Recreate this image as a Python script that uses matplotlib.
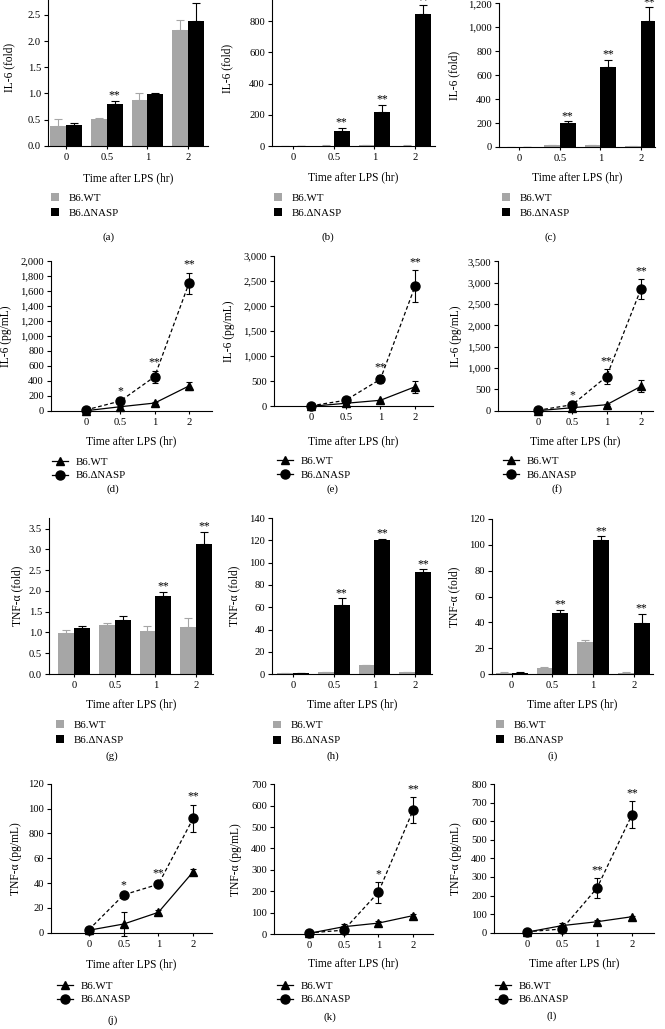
import numpy as np
import matplotlib
matplotlib.use('Agg')
import matplotlib.pyplot as plt
from matplotlib.transforms import blended_transform_factory
from matplotlib.lines import Line2D
from matplotlib.patches import Patch

plt.rcParams['font.family'] = ['Liberation Serif', 'DejaVu Serif']
plt.rcParams['axes.linewidth'] = 0.8
plt.rcParams['xtick.major.width'] = 0.8
plt.rcParams['ytick.major.width'] = 0.8
plt.rcParams['xtick.major.size'] = 3
plt.rcParams['ytick.major.size'] = 3

W, H = 665, 1029
GRAY = '#a6a6a6'
FS_TICK = 7.6
FS_LAB = 8.3
FS_LEG = 7.8
FS_STAR = 8.5

times = ['0', '0.5', '1', '2']
groups = ['B6.WT', 'B6.\u0394NASP']

# ---- bar panels (fold change, mean + SEM) ----
a_wt = [0.37, 0.505, 0.87, 2.22]
a_wt_err = [0.14, 0.02, 0.13, 0.19]
a_ko = [0.40, 0.79, 0.98, 2.38]
a_ko_err = [0.035, 0.07, 0.03, 0.35]
a_stars = ['', '**', '', '']

b_wt = [1, 3, 6, 3]
b_wt_err = [0.5, 1, 2, 1]
b_ko = [2, 94, 216, 850]
b_ko_err = [0.5, 23, 50, 52]
b_stars = ['', '**', '**', '**']

c_wt = [2, 15, 15, 5]
c_wt_err = [1, 4, 4, 1]
c_ko = [2, 198, 671, 1050]
c_ko_err = [1, 16, 56, 117]
c_stars = ['', '**', '**', '**']

g_wt = [0.99, 1.19, 1.04, 1.13]
g_wt_err = [0.08, 0.03, 0.12, 0.22]
g_ko = [1.11, 1.31, 1.87, 3.12]
g_ko_err = [0.04, 0.08, 0.11, 0.30]
g_stars = ['', '', '**', '**']

h_wt = [1, 2, 8, 2]
h_wt_err = [0.2, 0.3, 0.5, 0.3]
h_ko = [1, 62, 120, 91.5]
h_ko_err = [0.2, 6, 1.5, 2.5]
h_stars = ['', '**', '**', '**']

i_wt = [1, 4.5, 25, 1]
i_wt_err = [0.2, 1, 1, 0.2]
i_ko = [1, 47.5, 104, 39.5]
i_ko_err = [0.2, 2, 2.5, 7]
i_stars = ['', '**', '**', '**']

# ---- line panels (pg/mL, mean +/- SEM) ----
d_wt = [0, 53, 102, 330]
d_wt_err = [2, 10, 15, 58]
d_ko = [10, 129, 454, 1701]
d_ko_err = [5, 20, 80, 145]
d_stars = ['', '*', '**', '**']

e_wt = [0, 60, 120, 390]
e_wt_err = [2, 10, 15, 120]
e_ko = [10, 120, 540, 2400]
e_ko_err = [5, 20, 80, 320]
e_stars = ['', '', '**', '**']

f_wt = [0, 70, 140, 570]
f_wt_err = [2, 10, 20, 140]
f_ko = [10, 140, 800, 2850]
f_ko_err = [5, 20, 170, 230]
f_stars = ['', '*', '**', '**']

j_wt = [2, 7, 16.4, 49]
j_wt_err = [0.3, 9.5, 1.5, 2]
j_ko = [2.5, 30.5, 39, 92]
j_ko_err = [0.5, 1.5, 2, 11]
j_stars = ['', '*', '**', '**']

k_wt = [3, 34, 51, 86]
k_wt_err = [1, 12, 8, 7]
k_ko = [5, 18, 195, 579]
k_ko_err = [2, 5, 48, 60]
k_stars = ['', '', '*', '**']

l_wt = [3, 38, 59, 86]
l_wt_err = [1, 12, 12, 5]
l_ko = [5, 20, 240, 635]
l_ko_err = [2, 5, 52, 72]
l_stars = ['', '', '**', '**']

fig = plt.figure(figsize=(W / 100, H / 100), dpi=100)


def fx(x):
    return x / W


def fy(y):
    return 1 - y / H


def make_axes(spine_x, right_x, g0, step, y0, ref_val, ref_px, ytop_val):
    scale = (y0 - ref_px) / ref_val
    ytop_px = y0 - ytop_val * scale
    ax = fig.add_axes([fx(spine_x), fy(y0), (right_x - spine_x) / W, (y0 - ytop_px) / H])
    ax.set_xlim((spine_x - g0) / step, (right_x - g0) / step)
    ax.set_ylim(0, ytop_val)
    for s in ('top', 'right'):
        ax.spines[s].set_visible(False)
    ax.set_xticks(range(4))
    ax.set_xticklabels(times)
    ax.tick_params(axis='x', labelsize=FS_TICK, pad=2.5, length=2.5)
    ax.tick_params(axis='y', labelsize=FS_TICK, pad=2)
    return ax


def finish(ax, yticks, ylabels, ylabel, ylab_x, xlab_y, letter, letter_xy):
    ax.set_yticks(yticks)
    ax.set_yticklabels(ylabels)
    ax.set_ylabel(ylabel, fontsize=FS_LAB)
    ax.yaxis.set_label_coords(fx(ylab_x + 5), 0.5,
                              transform=blended_transform_factory(fig.transFigure, ax.transAxes))
    ax.set_xlabel('Time after LPS (hr)', fontsize=FS_LAB)
    ax.xaxis.set_label_coords(0.5, fy(xlab_y - 6),
                              transform=blended_transform_factory(ax.transAxes, fig.transFigure))
    fig.text(fx(letter_xy[0]), fy(letter_xy[1]), letter, ha='center', va='center', fontsize=FS_LEG)


def bar_panel(pos, wt, wt_err, ko, ko_err, stars, yticks, ylabels, ylabel, ylab_x, xlab_y,
              leg_xy, letter, letter_xy):
    ax = make_axes(*pos)
    x = np.arange(4)
    w = 0.39
    zeros = np.zeros(4)
    ax.bar(x - w / 2, wt, w, color=GRAY, yerr=[zeros, wt_err], capsize=2.6,
           error_kw=dict(ecolor=GRAY, elinewidth=0.8, capthick=0.8))
    ax.bar(x + w / 2, ko, w, color='black', yerr=[zeros, ko_err], capsize=2.6,
           error_kw=dict(ecolor='black', elinewidth=0.8, capthick=0.8))
    for xi, v, e, s in zip(x, ko, ko_err, stars):
        if s:
            ax.annotate(s, xy=(xi + w / 2, v + e), xytext=(0, -0.5), textcoords='offset points',
                        ha='center', va='bottom', fontsize=FS_STAR, annotation_clip=False)
    handles = [Patch(facecolor=GRAY, edgecolor='none'), Patch(facecolor='black', edgecolor='none')]
    ax.legend(handles, groups, loc='upper left', bbox_to_anchor=(fx(leg_xy[0]), fy(leg_xy[1])),
              bbox_transform=fig.transFigure, frameon=False, fontsize=FS_LEG,
              handlelength=0.75, handleheight=0.75, handletextpad=0.85, labelspacing=0.5,
              borderpad=0, borderaxespad=0)
    finish(ax, yticks, ylabels, ylabel, ylab_x, xlab_y, letter, letter_xy)
    return ax


def line_panel(pos, wt, wt_err, ko, ko_err, stars, yticks, ylabels, ylabel, ylab_x, xlab_y,
               leg_xy, letter, letter_xy):
    ax = make_axes(*pos)
    x = np.arange(4)
    ax.errorbar(x, wt, yerr=wt_err, color='black', lw=0.9, marker='^', ms=6,
                capsize=2.4, elinewidth=0.8, capthick=0.8, clip_on=False, zorder=3)
    ax.errorbar(x, ko, yerr=ko_err, color='black', lw=0.9, marker='o', ms=6.5,
                dashes=(3, 2), capsize=2.4, elinewidth=0.8, capthick=0.8, clip_on=False, zorder=4)
    for xi, v, e, s in zip(x, ko, ko_err, stars):
        if s:
            ax.annotate(s, xy=(xi, v + e), xytext=(0, 1.5), textcoords='offset points',
                        ha='center', va='bottom', fontsize=FS_STAR, annotation_clip=False)
    handles = [Line2D([], [], color='black', lw=0.9, marker='^', ms=6),
               Line2D([], [], color='black', lw=0.9, marker='o', ms=6.5)]
    ax.legend(handles, groups, loc='upper left', bbox_to_anchor=(fx(leg_xy[0]), fy(leg_xy[1])),
              bbox_transform=fig.transFigure, frameon=False, fontsize=FS_LEG,
              handlelength=1.45, handletextpad=0.75, labelspacing=0.4,
              borderpad=0, borderaxespad=0)
    finish(ax, yticks, ylabels, ylabel, ylab_x, xlab_y, letter, letter_xy)
    return ax


def comma(v):
    return [f'{t:,.0f}' for t in v]


# Row 1: IL-6 fold (bars)
bar_panel((48, 208, 66, 40.7, 145.7, 2.5, 15, 3.0), a_wt, a_wt_err, a_ko, a_ko_err, a_stars,
          np.arange(0, 3.01, 0.5), [f'{t:.1f}' for t in np.arange(0, 3.01, 0.5)],
          'IL-6 (fold)', 10, 178, (51, 193), '(a)', (108, 237))
bar_panel((272, 435, 293, 40.7, 146, 800, 21.3, 1000), b_wt, b_wt_err, b_ko, b_ko_err, b_stars,
          np.arange(0, 1001, 200), comma(np.arange(0, 1001, 200)),
          'IL-6 (fold)', 228, 177, (274, 193), '(b)', (328, 237))
bar_panel((499, 655, 519, 40.7, 147, 1200, 3.3, 1200), c_wt, c_wt_err, c_ko, c_ko_err, c_stars,
          np.arange(0, 1201, 200), comma(np.arange(0, 1201, 200)),
          'IL-6 (fold)', 455, 177, (502, 193), '(c)', (550, 237))

# Row 2: IL-6 pg/mL (lines)
line_panel((51, 212, 86, 34.3, 410.7, 2000, 261, 2000), d_wt, d_wt_err, d_ko, d_ko_err, d_stars,
           np.arange(0, 2001, 200), comma(np.arange(0, 2001, 200)),
           'IL-6 (pg/mL)', 7, 441, (52, 457), '(d)', (113, 489))
line_panel((274, 433, 311, 34.7, 406.3, 3000, 256, 3000), e_wt, e_wt_err, e_ko, e_ko_err, e_stars,
           np.arange(0, 3001, 500), comma(np.arange(0, 3001, 500)),
           'IL-6 (pg/mL)', 230, 441, (277, 456), '(e)', (332, 489))
line_panel((498, 653, 538, 34.3, 410.7, 3500, 261.3, 3500), f_wt, f_wt_err, f_ko, f_ko_err, f_stars,
           np.arange(0, 3501, 500), comma(np.arange(0, 3501, 500)),
           'IL-6 (pg/mL)', 457, 441.5, (503, 456), '(f)', (557, 489))

# Row 3: TNF-a fold (bars)
bar_panel((49, 213, 74, 40.7, 674, 3.5, 528.7, 3.75), g_wt, g_wt_err, g_ko, g_ko_err, g_stars,
          np.arange(0, 3.51, 0.5), [f'{t:.1f}' for t in np.arange(0, 3.51, 0.5)],
          'TNF-\u03b1 (fold)', 18, 704, (56, 720), '(g)', (112, 756))
bar_panel((272, 432, 293, 40.7, 674.3, 140, 518, 140), h_wt, h_wt_err, h_ko, h_ko_err, h_stars,
          np.arange(0, 141, 20), comma(np.arange(0, 141, 20)),
          'TNF-\u03b1 (fold)', 235, 704, (273, 720.5), '(h)', (333, 756))
bar_panel((492, 653, 511.7, 40.7, 674, 120, 519, 120), i_wt, i_wt_err, i_ko, i_ko_err, i_stars,
          np.arange(0, 121, 20), comma(np.arange(0, 121, 20)),
          'TNF-\u03b1 (fold)', 455, 704, (496, 720), '(i)', (553, 756))

# Row 4: TNF-a pg/mL (lines)
line_panel((51, 212, 89, 34.7, 932.7, 120, 783.7, 120), j_wt, j_wt_err, j_ko, j_ko_err, j_stars,
           np.arange(0, 121, 20), ['0', '20', '40', '60', '800', '100', '120'],
           'TNF-\u03b1 (pg/mL)', 17, 964, (57, 981), '(j)', (113, 1020))
line_panel((274, 433, 309, 34.7, 934, 700, 784.3, 700), k_wt, k_wt_err, k_ko, k_ko_err, k_stars,
           np.arange(0, 701, 100), comma(np.arange(0, 701, 100)),
           'TNF-\u03b1 (pg/mL)', 237, 963, (277, 981), '(k)', (330, 1017))
line_panel((494, 654, 527, 35, 932.7, 800, 784, 800), l_wt, l_wt_err, l_ko, l_ko_err, l_stars,
           np.arange(0, 801, 100), comma(np.arange(0, 801, 100)),
           'TNF-\u03b1 (pg/mL)', 457, 963, (495, 981), '(l)', (552, 1016))

fig.savefig('out.png', dpi=100)
